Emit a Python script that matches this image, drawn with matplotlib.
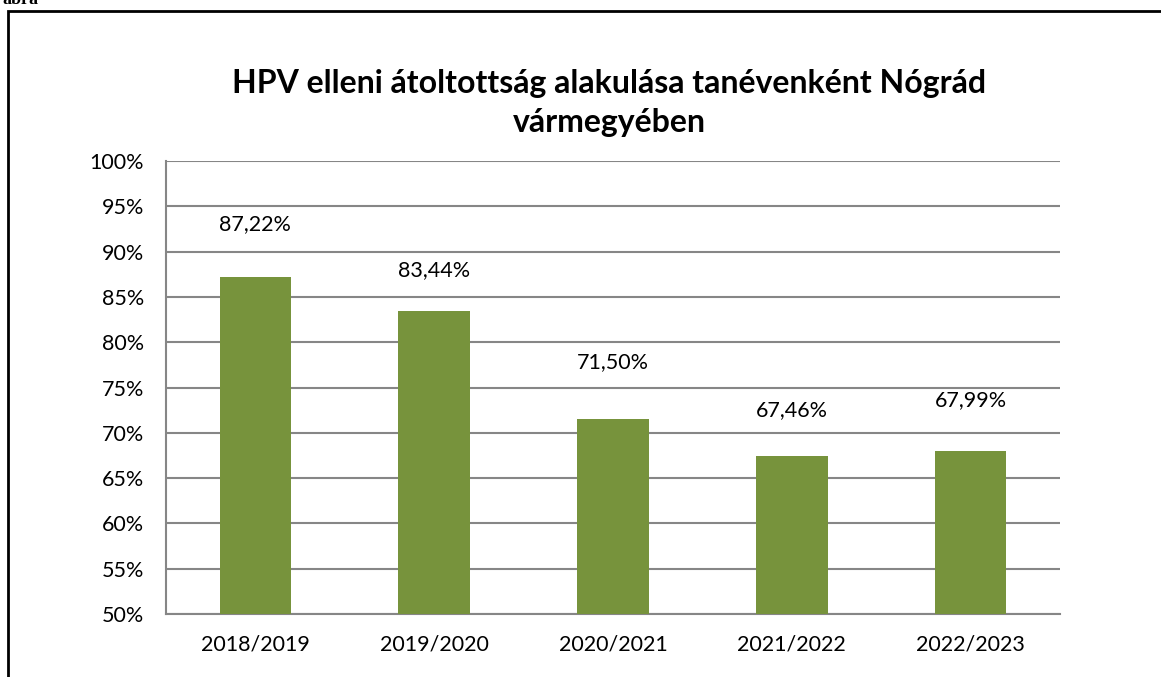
import matplotlib
matplotlib.use("Agg")
import matplotlib.pyplot as plt
import numpy as np
from matplotlib.patches import Rectangle

plt.rcParams['font.family'] = ['Lato', 'DejaVu Sans']

# data
years = ["2018/2019", "2019/2020", "2020/2021", "2021/2022", "2022/2023"]
coverage = [87.22, 83.44, 71.50, 67.46, 67.99]
value_labels = ["87,22%", "83,44%", "71,50%", "67,46%", "67,99%"]
yticks = [50, 55, 60, 65, 70, 75, 80, 85, 90, 95, 100]

# the labels were hand-placed in the original, so their gap above the bar varies
label_gap = [5.8, 4.5, 6.3, 5.1, 5.6]

W, H = 1161, 677
fig = plt.figure(figsize=(W / 100, H / 100), dpi=100)

# outer frame of the embedded chart (right/bottom cut off in the original)
fig.patches.append(Rectangle((8 / W, -0.05), 1.1, 1 - 10.5 / H - (-0.05),
                             transform=fig.transFigure, fill=False,
                             edgecolor="black", linewidth=2))
# caption word, cut off at the top as in the source page
fig.text(2 / W, 1 - 4 / H, "ábra", fontsize=13, fontweight="bold",
         family="Liberation Serif", va="baseline", ha="left")

# plot area: x 166..1060, y 161..614 in pixels
ax = fig.add_axes([166 / W, 1 - 614 / H, (1060 - 166) / W, (614 - 161) / H])
x = np.arange(len(years))
ax.bar(x, coverage, width=0.4, color="#77933C", zorder=3)
for xi, v, gap, lab in zip(x, coverage, label_gap, value_labels):
    ax.text(xi, v + gap, lab, ha="center", va="center", fontsize=15.5)

ax.set_ylim(50, 100)
ax.set_xlim(-0.5, len(years) - 0.5)
ax.set_yticks(yticks)
ax.set_yticklabels([f"{t}%" for t in yticks], fontsize=15.5)
ax.set_xticks(x)
ax.set_xticklabels(years, fontsize=15.5)
ax.tick_params(axis="y", length=0, pad=16)
ax.tick_params(axis="x", length=0, pad=15)
ax.yaxis.grid(True, color="#868686", linewidth=1.5, zorder=0)
for s in ["top", "right"]:
    ax.spines[s].set_visible(False)
for s in ["left", "bottom"]:
    ax.spines[s].set_color("#868686")
    ax.spines[s].set_linewidth(1.5)

fig.text(609 / W, 1 - 103 / H,
         "HPV elleni átoltottság alakulása tanévenként Nógrád\nvármegyében",
         ha="center", va="center", fontsize=23, fontweight="bold",
         linespacing=1.45)

fig.savefig("out.png", dpi=100)
